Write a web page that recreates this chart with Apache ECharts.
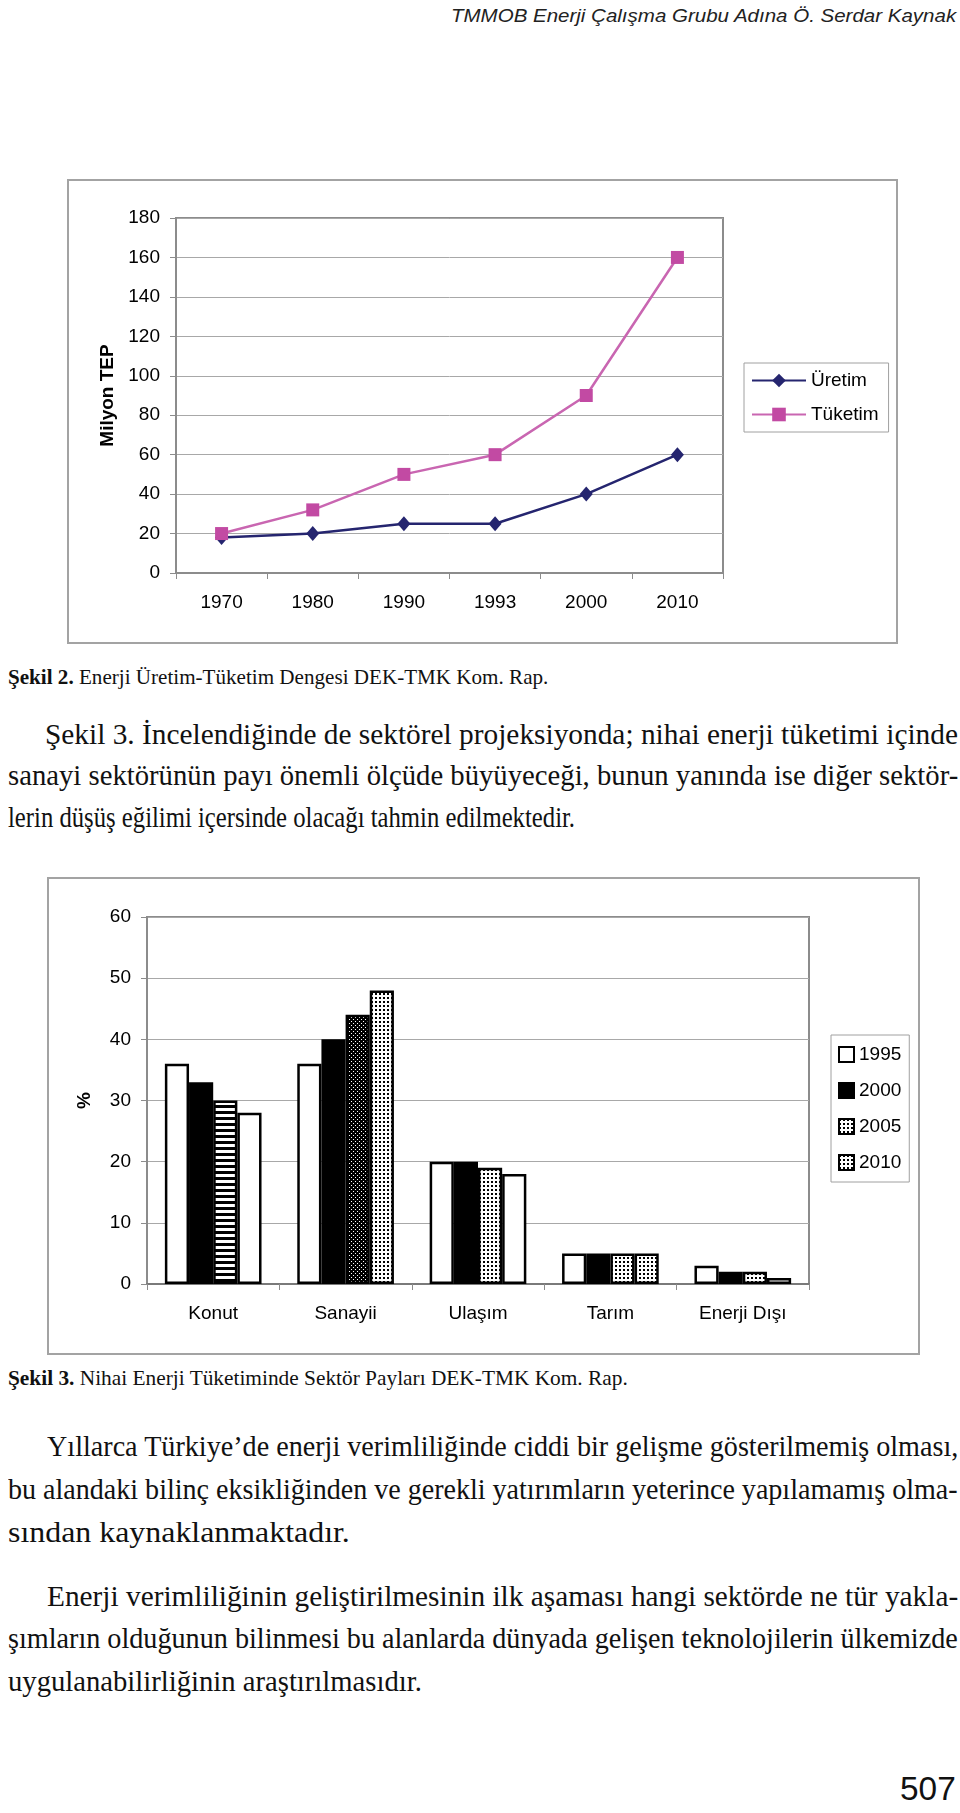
<!DOCTYPE html>
<html><head><meta charset="utf-8">
<script src="https://cdn.jsdelivr.net/npm/echarts@6/dist/echarts.min.js"></script>
<style>
html,body{margin:0;padding:0;background:#fff;}
body{width:960px;height:1813px;position:relative;overflow:hidden;}
.t{position:absolute;white-space:nowrap;transform-origin:0 50%;color:#111;}
.serif{font-family:'Liberation Serif','Tinos','Times New Roman','DejaVu Serif Condensed','DejaVu Serif',serif;}
.sans{font-family:'Liberation Sans',Arial,sans-serif;}
.hdr{font-style:italic;color:#222;}
#c1{position:absolute;left:67px;top:179px;width:831px;height:465px;}
#c2{position:absolute;left:47px;top:877px;width:873px;height:478px;}
</style></head><body>

<div class="t sans hdr" data-x="451" data-w="505" data-cy="16" data-fs="19">TMMOB Enerji Çalışma Grubu Adına Ö. Serdar Kaynak</div>

<div id="c1"></div>

<div class="t serif" data-x="8" data-w="540" data-cy="678" data-fs="22"><b>Şekil 2.</b> Enerji Üretim-Tüketim Dengesi DEK-TMK Kom. Rap.</div>

<div class="t serif" data-x="45" data-w="913" data-cy="736" data-fs="29">Şekil 3. İncelendiğinde de sektörel projeksiyonda; nihai enerji tüketimi içinde</div>
<div class="t serif" data-x="8" data-w="950" data-cy="777" data-fs="29">sanayi sektörünün payı önemli ölçüde büyüyeceği, bunun yanında ise diğer sektör-</div>
<div class="t serif" data-x="8" data-w="567" data-cy="819" data-fs="29">lerin düşüş eğilimi içersinde olacağı tahmin edilmektedir.</div>

<div id="c2"></div>

<div class="t serif" data-x="8" data-w="620" data-cy="1379" data-fs="22"><b>Şekil 3.</b> Nihai Enerji Tüketiminde Sektör Payları DEK-TMK Kom. Rap.</div>

<div class="t serif" data-x="47" data-w="911" data-cy="1448" data-fs="29">Yıllarca Türkiye’de enerji verimliliğinde ciddi bir gelişme gösterilmemiş olması,</div>
<div class="t serif" data-x="8" data-w="950" data-cy="1491" data-fs="29">bu alandaki bilinç eksikliğinden ve gerekli yatırımların yeterince yapılamamış olma-</div>
<div class="t serif" data-x="8" data-w="342" data-cy="1534" data-fs="29">sından kaynaklanmaktadır.</div>

<div class="t serif" data-x="47" data-w="911" data-cy="1598" data-fs="29">Enerji verimliliğinin geliştirilmesinin ilk aşaması hangi sektörde ne tür yakla-</div>
<div class="t serif" data-x="8" data-w="950" data-cy="1640" data-fs="29">şımların olduğunun bilinmesi bu alanlarda dünyada gelişen teknolojilerin ülkemizde</div>
<div class="t serif" data-x="8" data-w="414" data-cy="1683" data-fs="29">uygulanabilirliğinin araştırılmasıdır.</div>

<div class="t sans" data-x="900" data-w="56" data-cy="1790" data-fs="34">507</div>

<script>
// ---- Data: Şekil 2 ----
const years = ['1970', '1980', '1990', '1993', '2000', '2010'];
const uretim = [18, 20, 25, 25, 40, 60];
const tuketim = [20, 32, 50, 60, 90, 160];
const axis1Min = 0, axis1Max = 180, axis1Step = 20;

// ---- Data: Şekil 3 ----
const sectors = ['Konut', 'Sanayii', 'Ulaşım', 'Tarım', 'Enerji Dışı'];
const share1995 = [36, 36, 20, 5, 3];
const share2000 = [33, 40, 20, 5, 2];
const share2005 = [30, 44, 19, 5, 2];
const share2010 = [28, 48, 18, 5, 1];
const axis2Min = 0, axis2Max = 60, axis2Step = 10;

// fill styles per bar (styles only)
const fill2005 = ['stripes', 'cross', 'dots', 'dots', 'dots'];
const fill2010 = ['white', 'dots', 'white', 'dots', 'white'];

// ---- text layout ----
document.querySelectorAll('.t').forEach(el => {
  const fs = +el.dataset.fs;
  el.style.fontSize = fs + 'px';
  el.style.lineHeight = fs + 'px';
  el.style.left = el.dataset.x + 'px';
  el.style.top = (+el.dataset.cy - 0.55 * fs) + 'px';
  const nat = el.offsetWidth;
  el.style.transform = 'scaleX(' + (+el.dataset.w / nat) + ')';
});

const FONT = "'Liberation Sans', Arial, sans-serif";

function pattern(kind) {
  if (kind === 'white') return '#ffffff';
  const c = document.createElement('canvas');
  const g = c.getContext('2d');
  if (kind === 'stripes') {
    c.width = 6; c.height = 6;
    g.fillStyle = '#fff'; g.fillRect(0, 0, 6, 6);
    g.fillStyle = '#000'; g.fillRect(0, 0, 6, 3);
  } else if (kind === 'dots') {
    c.width = 4; c.height = 4;
    g.fillStyle = '#fff'; g.fillRect(0, 0, 4, 4);
    g.fillStyle = '#000'; g.fillRect(0, 0, 2, 2);
  } else if (kind === 'cross') {
    c.width = 4; c.height = 4;
    g.fillStyle = '#000'; g.fillRect(0, 0, 4, 4);
    g.fillStyle = '#fff'; g.fillRect(0, 0, 1, 1); g.fillRect(2, 2, 1, 1);
  }
  return { image: c, repeat: 'repeat' };
}

// ---- Chart 1 ----
const navy = '#25256f';
const pinkLine = '#c966b1';
const pinkMark = '#c24aa3';
const ch1 = echarts.init(document.getElementById('c1'), null, { renderer: 'canvas' });
ch1.setOption({
  animation: false,
  textStyle: { fontFamily: FONT },
  graphic: [{ type: 'rect', silent: true, shape: { x: 1, y: 1, width: 829, height: 463 },
    style: { fill: 'none', stroke: '#a3a3a3', lineWidth: 2 } }],
  grid: { left: 109, top: 39, right: 175, bottom: 71, show: true, borderColor: '#8c8c8c', borderWidth: 2 },
  legend: {
    orient: 'vertical', left: 677, top: 184,
    padding: [8, 10, 8, 7], itemGap: 15, itemWidth: 54, itemHeight: 17,
    borderColor: '#a0a0a0', borderWidth: 1,
    textStyle: { fontSize: 19, color: '#000', fontFamily: FONT, lineHeight: 17 },
    data: ['Üretim', 'Tüketim']
  },
  xAxis: {
    type: 'category', data: years,
    axisLine: { lineStyle: { color: '#8c8c8c', width: 2 } },
    axisTick: { show: true, length: 6, lineStyle: { color: '#8c8c8c', width: 1 } },
    axisLabel: { color: '#000', fontSize: 19, margin: 20, fontFamily: FONT }
  },
  yAxis: {
    type: 'value', min: axis1Min, max: axis1Max, interval: axis1Step,
    name: 'Milyon TEP', nameLocation: 'middle', nameGap: 59,
    nameTextStyle: { fontWeight: 'bold', fontSize: 19, color: '#000', fontFamily: FONT },
    axisLine: { show: true, lineStyle: { color: '#8c8c8c', width: 2 } },
    axisTick: { show: true, length: 6, lineStyle: { color: '#8c8c8c', width: 1 } },
    splitLine: { lineStyle: { color: '#a8a8a8', width: 1 } },
    axisLabel: { color: '#000', fontSize: 19, margin: 16, fontFamily: FONT }
  },
  series: [
    { name: 'Üretim', type: 'line', data: uretim, symbol: 'diamond', symbolSize: [13, 15],
      lineStyle: { color: navy, width: 2.5 }, itemStyle: { color: navy } },
    { name: 'Tüketim', type: 'line', data: tuketim, symbol: 'rect', symbolSize: 13,
      lineStyle: { color: pinkLine, width: 2.5 }, itemStyle: { color: pinkMark } }
  ]
});

// ---- Chart 2 ----
const barBase = { type: 'bar', barGap: '0%', barCategoryGap: '27%' };
const border = { borderColor: '#000', borderWidth: 2.5 };
const ch2 = echarts.init(document.getElementById('c2'), null, { renderer: 'canvas' });
ch2.setOption({
  animation: false,
  textStyle: { fontFamily: FONT },
  graphic: [{ type: 'rect', silent: true, shape: { x: 1, y: 1, width: 871, height: 476 },
    style: { fill: 'none', stroke: '#a3a3a3', lineWidth: 2 } }],
  grid: { left: 100, top: 40, right: 111, bottom: 71, show: true, borderColor: '#8c8c8c', borderWidth: 2 },
  legend: {
    orient: 'vertical', left: 784, top: 158,
    padding: [10, 8, 10, 7], itemGap: 17, itemWidth: 15, itemHeight: 15,
    borderColor: '#a0a0a0', borderWidth: 1, icon: 'rect',
    textStyle: { fontSize: 19, color: '#000', fontFamily: FONT, lineHeight: 15 },
    data: ['1995', '2000', '2005', '2010']
  },
  xAxis: {
    type: 'category', data: sectors,
    axisLine: { lineStyle: { color: '#7a7a7a', width: 2 } },
    axisTick: { show: true, length: 6, lineStyle: { color: '#8c8c8c', width: 1 } },
    axisLabel: { color: '#000', fontSize: 19, margin: 20, fontFamily: FONT }
  },
  yAxis: {
    type: 'value', min: axis2Min, max: axis2Max, interval: axis2Step,
    name: '%', nameLocation: 'middle', nameGap: 53,
    nameTextStyle: { fontWeight: 'bold', fontSize: 19, color: '#000', fontFamily: FONT },
    axisLine: { show: true, lineStyle: { color: '#8c8c8c', width: 2 } },
    axisTick: { show: true, length: 6, lineStyle: { color: '#8c8c8c', width: 1 } },
    splitLine: { lineStyle: { color: '#a8a8a8', width: 1 } },
    axisLabel: { color: '#000', fontSize: 19, margin: 16, fontFamily: FONT }
  },
  series: [
    Object.assign({}, barBase, { name: '1995', data: share1995,
      itemStyle: Object.assign({ color: '#ffffff' }, border) }),
    Object.assign({}, barBase, { name: '2000', data: share2000,
      itemStyle: Object.assign({ color: '#000000' }, border) }),
    Object.assign({}, barBase, { name: '2005',
      data: share2005.map((v, i) => ({ value: v, itemStyle: { color: pattern(fill2005[i]) } })),
      itemStyle: Object.assign({ color: pattern('dots') }, border) }),
    Object.assign({}, barBase, { name: '2010',
      data: share2010.map((v, i) => ({ value: v, itemStyle: { color: pattern(fill2010[i]) } })),
      itemStyle: Object.assign({ color: pattern('dots') }, border) })
  ]
});
</script>
</body></html>
